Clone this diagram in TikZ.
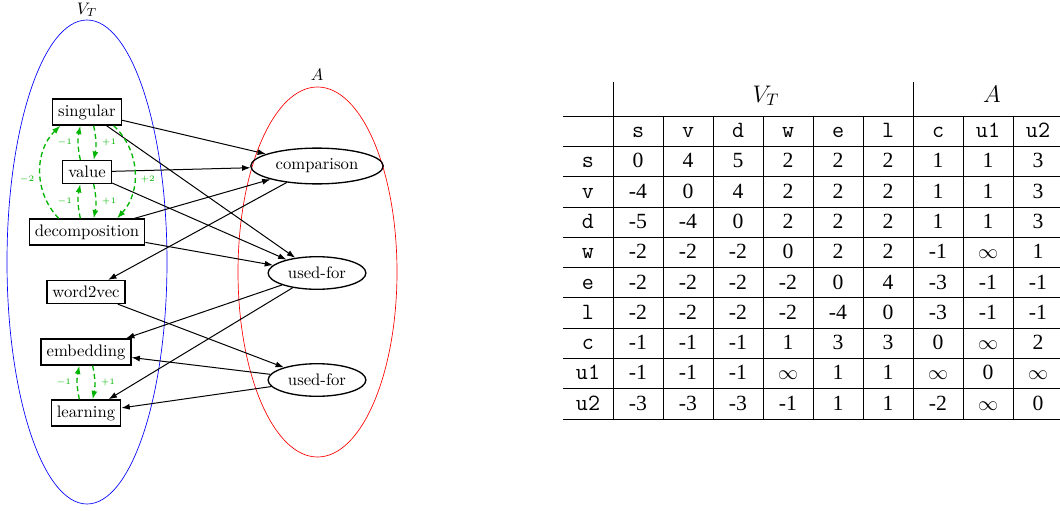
\documentclass[tikz,border=0pt]{standalone}
\usepackage{amsmath,amssymb}
\usepackage{fontspec}
\newfontfamily\tabserif{Liberation Serif}
\usepackage{tikz}
\usetikzlibrary{shapes.geometric,arrows.meta}
\usepackage{xcolor}
\definecolor{LoopGreen}{HTML}{00B400}

\begin{document}
\begin{tikzpicture}[x=0.6pt,y=-0.6pt,
	word/.style={draw,thick,rectangle},
	rel/.style={draw,thick,ellipse},
	edge/.style={-{Latex[length=5pt,width=3.6pt]},semithick},
	dloop/.style={-{Latex[length=5pt,width=3.6pt]},LoopGreen,thick,dash pattern=on 3pt off 2pt},
	lbl/.style={font=\tiny,text=LoopGreen},
	cell/.style={anchor=base,inner sep=0pt,font={\tabserif\fontsize{13pt}{15pt}\selectfont}},
	mcell/.style={anchor=base,inner sep=0pt,font={\ttfamily\fontsize{14pt}{16pt}\selectfont}},
	head/.style={anchor=base,inner sep=0pt,font={\fontsize{14.4pt}{17pt}\selectfont}}]
\useasboundingbox (0,0) rectangle (1060,510);
% the two sets
\draw[blue] (87,262) ellipse [x radius=80, y radius=242];
\node (vtname) at (87,10) {$V_T$};
\draw[red] (317.5,272) ellipse [x radius=79.5, y radius=185];
\node (aname) at (317,75) {$A$};
% words
\node[word] (sing) at (87,112) {singular};
\node[word] (val) at (87,172) {value};
\node[word] (dec) at (87,232) {decomposition};
\node[word] (w2v) at (86,292) {word2vec};
\node[word] (emb) at (86,352) {embedding};
\node[word] (learn) at (86,413) {learning};
% relations
\node[rel] (comp) at (317,166) {comparison};
\node[rel] (use1) at (317,273) {used-for};
\node[rel] (use2) at (317,380) {used-for};
% black edges
\draw[edge] (sing) -- (comp);
\draw[edge] (sing) -- (use1);
\draw[edge] (val) -- (comp);
\draw[edge] (val) -- (use1);
\draw[edge] (dec) -- (comp);
\draw[edge] (dec) -- (use1);
\draw[edge] (comp) -- (w2v);
\draw[edge] (w2v) -- (use2);
\draw[edge] (use1) -- (emb);
\draw[edge] (use1) -- (learn);
\draw[edge] (use2) -- (emb);
\draw[edge] (use2) -- (learn);
% green order edges
\draw[dloop] ([xshift=-4pt]val.north) to[bend left=12] node[lbl,left] (l1) {$-1$} ([xshift=-4pt]sing.south);
\draw[dloop] ([xshift=4pt]sing.south) to[bend left=12] node[lbl,right] (l2) {$+1$} ([xshift=4pt]val.north);
\draw[dloop] ([xshift=-4pt]dec.north) to[bend left=12] node[lbl,left] (l3) {$-1$} ([xshift=-4pt]val.south);
\draw[dloop] ([xshift=4pt]val.south) to[bend left=12] node[lbl,right] (l4) {$+1$} ([xshift=4pt]dec.north);
\draw[dloop] ([xshift=-17pt]dec.north) to[bend left=45] node[lbl,left,pos=0.42] (l5) {$-2$} ([xshift=-16pt]sing.south);
\draw[dloop] ([xshift=16pt]sing.south) to[bend left=45] node[lbl,right,pos=0.58] (l6) {$+2$} ([xshift=18pt]dec.north);
\draw[dloop] ([xshift=-4pt]learn.north) to[bend left=12] node[lbl,left] (l7) {$-1$} ([xshift=-4pt]emb.south);
\draw[dloop] ([xshift=4pt]emb.south) to[bend left=12] node[lbl,right] (l8) {$+1$} ([xshift=4pt]learn.north);
% distance table
\foreach \k in {0,...,10}
	\draw (563,{116+30.3*\k}) -- (1060,{116+30.3*\k});
\draw (613,82) -- (613,419);
\draw (913,82) -- (913,419);
\foreach \x in {663,713,763,813,863,963,1013}
	\draw (\x,116) -- (\x,419);
\node[head] (hvt) at (766,102) {$V_T$};
\node[head] (ha) at (992,102) {$A$};
\foreach \c [count=\i] in {s,v,d,w,e,l,c,u1,u2} {
	\node[mcell] (col\i) at ({588+50*\i},137.5) {\c};
	\node[mcell] (row\i) at (588,{137.5+30.3*\i}) {\c};
}
\foreach \row [count=\r] in {
	{0,4,5,2,2,2,1,1,3},
	{-4,0,4,2,2,2,1,1,3},
	{-5,-4,0,2,2,2,1,1,3},
	{-2,-2,-2,0,2,2,-1,$\infty$,1},
	{-2,-2,-2,-2,0,4,-3,-1,-1},
	{-2,-2,-2,-2,-4,0,-3,-1,-1},
	{-1,-1,-1,1,3,3,0,$\infty$,2},
	{-1,-1,-1,$\infty$,1,1,$\infty$,0,$\infty$},
	{-3,-3,-3,-1,1,1,-2,$\infty$,0}}
	\foreach \v [count=\c] in \row
		\node[cell] (cell-\r-\c) at ({588+50*\c},{137.5+30.3*\r}) {\v};
\end{tikzpicture}
\end{document}
